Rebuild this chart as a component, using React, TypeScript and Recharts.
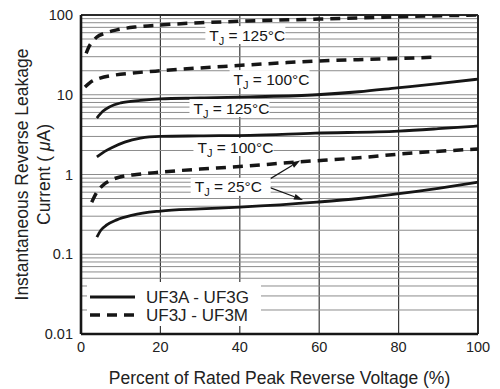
import {
  CartesianGrid,
  Line,
  LineChart,
  ReferenceDot,
  ReferenceLine,
  XAxis,
  YAxis,
} from "recharts";

// percent of rated peak reverse voltage / leakage current (uA)
const solid125X = [4, 5.5, 7.3, 10, 15, 20, 30, 42.6, 59.4, 70, 79.6, 90, 100];
const solid125Y = [5.1, 6.2, 7.1, 7.9, 8.5, 8.9, 9.1, 9.4, 10, 10.9, 12.2, 13.8, 15.7];
const solid100X = [4, 6, 8, 11, 15, 20, 30, 42.6, 59, 80, 90, 100];
const solid100Y = [1.66, 1.95, 2.2, 2.55, 2.86, 3.0, 3.05, 3.1, 3.3, 3.5, 3.75, 4.06];
const solid25X = [4, 5, 6.5, 9, 13, 20, 30, 40, 59.4, 70, 79.6, 90, 100];
const solid25Y = [0.164, 0.2, 0.233, 0.27, 0.31, 0.348, 0.37, 0.39, 0.45, 0.5, 0.57, 0.67, 0.8];
const dashed125X = [1.3, 2, 3, 4, 6, 9, 14, 20, 30, 42, 60, 76, 100];
const dashed125Y = [33, 40, 47, 53, 59, 65, 71, 75, 80, 84, 89, 94, 100];
const dashed100X = [1, 2.5, 4.8, 8, 13, 20, 30, 38, 50, 59.4, 75, 89.6];
const dashed100Y = [12.5, 14.5, 16.2, 17.5, 18.7, 20, 21.7, 23, 25, 26.5, 28, 29.6];
const dashed25X = [2.7, 4, 5.6, 7.5, 9.8, 14, 20, 30, 38, 55, 70, 80, 100];
const dashed25Y = [0.45, 0.6, 0.74, 0.85, 0.93, 1.0, 1.07, 1.17, 1.24, 1.44, 1.62, 1.8, 2.09];

const xTicks = [0, 20, 40, 60, 80, 100];
const yTicks = [0.01, 0.1, 1, 10, 100];
const decades = [0.01, 0.1, 1, 10];
const minorSteps = [1, 2, 3, 4, 5, 6, 7, 8, 9];

// temperature labels (x, y in data units)
const tempLabels = [
  { x: 41.4, y: 56, t: "125°C" },
  { x: 47.5, y: 15.7, t: "100°C" },
  { x: 37.4, y: 6.8, t: "125°C" },
  { x: 38.4, y: 2.21, t: "100°C" },
  { x: 37.7, y: 0.7, t: "25°C" },
];
const arrows = [
  { x1: 47.1, y1: 0.85, x2: 55.2, y2: 1.5 },
  { x1: 47.1, y1: 0.7, x2: 55.9, y2: 0.48 },
];

const INK = "#161616";
const GRID = "#8c8c8c";
const FONT = "'Liberation Sans', Arial, Helvetica, sans-serif";

const zip = (xs: number[], ys: number[]) => xs.map((x, i) => ({ x, y: ys[i] }));

const gridValues = decades
  .flatMap((d) => minorSteps.map((m) => +(d * m).toPrecision(3)))
  .filter((v) => v > 0.01);

function TempLabel(props: any) {
  const { cx, cy, t } = props;
  if (cx == null || cy == null) return null;
  return (
    <g>
      <rect x={cx - 40} y={cy - 9} width={80} height={18} fill="#fff" />
      <text x={cx - 36} y={cy + 5.5} fontSize={15.5} fill={INK} fontFamily={FONT}>
        T
        <tspan fontSize={11} dy={4}>J</tspan>
        <tspan dy={-4}>{` = ${t}`}</tspan>
      </text>
    </g>
  );
}

function Arrow(props: any) {
  const { x1, y1, x2, y2 } = props;
  const a = Math.atan2(y2 - y1, x2 - x1);
  const len = 9;
  const w = 3;
  const bx = x2 - len * Math.cos(a);
  const by = y2 - len * Math.sin(a);
  const pts = [
    `${x2},${y2}`,
    `${bx + w * Math.sin(a)},${by - w * Math.cos(a)}`,
    `${bx - w * Math.sin(a)},${by + w * Math.cos(a)}`,
  ].join(" ");
  return (
    <g>
      <line x1={x1} y1={y1} x2={bx} y2={by} stroke={INK} strokeWidth={1.2} />
      <polygon points={pts} fill={INK} />
    </g>
  );
}

function YTitle(props: any) {
  const vb = props.viewBox || {};
  const cy = vb.y + vb.height / 2;
  const x1 = 28;
  const x2 = 50;
  return (
    <g fontFamily={FONT} fontSize={17.5} fill="#222" textAnchor="middle">
      <text x={x1} y={cy} transform={`rotate(-90 ${x1} ${cy})`}>
        Instantaneous Reverse Leakage
      </text>
      <text x={x2} y={cy} transform={`rotate(-90 ${x2} ${cy})`}>
        {"Current ( "}
        <tspan fontStyle="italic">μ</tspan>
        {"A)"}
      </text>
    </g>
  );
}

function XTitle(props: any) {
  const vb = props.viewBox || {};
  return (
    <text
      x={vb.x + vb.width / 2}
      y={vb.y + 50}
      textAnchor="middle"
      fontFamily={FONT}
      fontSize={17.5}
      fill="#222"
    >
      Percent of Rated Peak Reverse Voltage (%)
    </text>
  );
}

function LegendBox() {
  return (
    <svg width={174} height={44} style={{ display: "block" }}>
      <rect x={0} y={0} width={174} height={44} fill="#fff" />
      <line x1={3} y1={15} x2={48} y2={15} stroke={INK} strokeWidth={3.2} />
      <line x1={3} y1={33} x2={48} y2={33} stroke={INK} strokeWidth={3.5} strokeDasharray="10 7" />
      <text x={59} y={21} fontSize={17} fill="#222" fontFamily={FONT}>
        UF3A - UF3G
      </text>
      <text x={59} y={39} fontSize={17} fill="#222" fontFamily={FONT}>
        UF3J - UF3M
      </text>
    </svg>
  );
}

export default function App() {
  const series = [
    { key: "s125", data: zip(solid125X, solid125Y), dashed: false },
    { key: "s100", data: zip(solid100X, solid100Y), dashed: false },
    { key: "s25", data: zip(solid25X, solid25Y), dashed: false },
    { key: "d125", data: zip(dashed125X, dashed125Y), dashed: true },
    { key: "d100", data: zip(dashed100X, dashed100Y), dashed: true },
    { key: "d25", data: zip(dashed25X, dashed25Y), dashed: true },
  ];

  return (
    <div style={{ position: "absolute", left: 0, top: 0, width: 500, height: 389, background: "#fff" }}>
      <LineChart width={500} height={389} margin={{ top: 15, right: 22, left: 0, bottom: 0 }}>
        <CartesianGrid vertical horizontal={false} stroke="#3a3a3a" strokeWidth={1.2} />
        <XAxis
          type="number"
          dataKey="x"
          domain={[0, 100]}
          ticks={xTicks}
          height={55}
          tickLine={false}
          axisLine={{ stroke: INK, strokeWidth: 2.6 }}
          tick={{ fill: "#222", fontSize: 14.5, fontFamily: FONT }}
          label={(p: any) => <XTitle {...p} />}
          allowDuplicatedCategory={false}
        />
        <YAxis
          type="number"
          dataKey="y"
          scale="log"
          domain={[0.01, 100]}
          ticks={yTicks}
          allowDataOverflow
          width={81}
          tickLine={false}
          axisLine={{ stroke: INK, strokeWidth: 2.6 }}
          tick={{ fill: "#222", fontSize: 14.5, fontFamily: FONT }}
          tickFormatter={(v: number) => String(v)}
          label={(p: any) => <YTitle {...p} />}
        />
        {gridValues.map((v) => (
          <ReferenceLine key={`g${v}`} y={v} stroke={GRID} strokeWidth={1} />
        ))}
        <ReferenceLine y={100} stroke="#2a2a2a" strokeWidth={2} />
        <ReferenceLine x={100} stroke="#2a2a2a" strokeWidth={2} />
        {tempLabels.map((l, i) => (
          <ReferenceDot
            key={`l${i}`}
            x={l.x}
            y={l.y}
            r={1}
            shape={(p: any) => <TempLabel {...p} t={l.t} />}
          />
        ))}
        {arrows.map((a, i) => (
          <ReferenceLine
            key={`a${i}`}
            segment={[
              { x: a.x1, y: a.y1 },
              { x: a.x2, y: a.y2 },
            ]}
            shape={(p: any) => <Arrow {...p} />}
          />
        ))}
        {series.map((s) => (
          <Line
            key={s.key}
            data={s.data}
            dataKey="y"
            type="monotone"
            stroke={INK}
            strokeWidth={s.dashed ? 3.5 : 2.8}
            strokeDasharray={s.dashed ? "10 7" : undefined}
            dot={false}
            activeDot={false}
            isAnimationActive={false}
          />
        ))}
      </LineChart>
      <div style={{ position: "absolute", left: 87, top: 282 }}>
        <LegendBox />
      </div>
    </div>
  );
}
